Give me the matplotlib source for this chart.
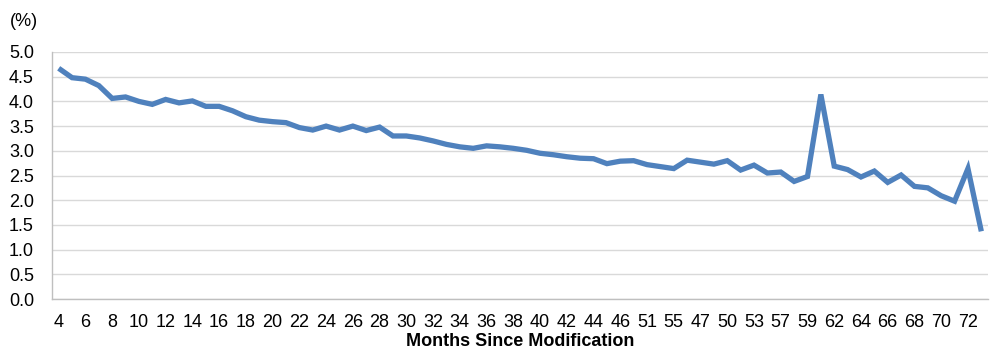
import matplotlib
matplotlib.use("Agg")
import matplotlib.pyplot as plt
import numpy as np

plt.rcParams['font.family'] = ['Liberation Sans', 'DejaVu Sans']

# Category labels (months since modification); only every other label is shown
categories = ["4", "5", "6", "7", "8", "9", "10", "11", "12", "13",
              "14", "15", "16", "17", "18", "19", "20", "21", "22", "23",
              "24", "25", "26", "27", "28", "29", "30", "31", "32", "33",
              "34", "35", "36", "37", "38", "39", "40", "41", "42", "43",
              "44", "45", "46", "48", "51", "54", "55", "56", "47", "49",
              "50", "52", "53", "56", "57", "58", "59", "61", "62", "63",
              "64", "65", "66", "67", "68", "69", "70", "71", "72", "73"]

values = [4.67, 4.48, 4.45, 4.32, 4.06, 4.09, 4.00, 3.94, 4.04, 3.97,
          4.01, 3.90, 3.90, 3.81, 3.69, 3.62, 3.59, 3.57, 3.47, 3.42,
          3.50, 3.42, 3.50, 3.41, 3.48, 3.30, 3.30, 3.26, 3.20, 3.13,
          3.08, 3.05, 3.10, 3.08, 3.05, 3.01, 2.95, 2.92, 2.88, 2.85,
          2.84, 2.74, 2.79, 2.80, 2.72, 2.68, 2.64, 2.81, 2.77, 2.73,
          2.80, 2.61, 2.71, 2.55, 2.57, 2.38, 2.48, 4.14, 2.69, 2.62,
          2.47, 2.59, 2.36, 2.51, 2.28, 2.25, 2.09, 1.98, 2.64, 1.37]

yticks = [0.0, 0.5, 1.0, 1.5, 2.0, 2.5, 3.0, 3.5, 4.0, 4.5, 5.0]

fig = plt.figure(figsize=(9.9, 3.51), dpi=100)
ax = fig.add_axes([52/990, 1 - 299/351, (988 - 52)/990, (299 - 52)/351])

x = np.arange(len(values))
ax.plot(x, values, color='#4F81BD', linewidth=3.8, solid_joinstyle='miter',
        solid_capstyle='butt', zorder=3)

ax.set_xlim(-0.5, len(values) - 0.5)
ax.set_ylim(0, 5.0)
ax.set_yticks(yticks)
ax.set_yticklabels([f"{v:.1f}" for v in yticks], fontsize=13)
ax.set_xticks(x[::2])
ax.set_xticklabels(categories[::2], fontsize=13)
ax.tick_params(axis='y', length=0, pad=13)
ax.tick_params(axis='x', length=0, pad=11)

ax.grid(axis='y', color='#D9D9D9', linewidth=1.0, zorder=0)
ax.set_axisbelow(True)
for s in ['top', 'right']:
    ax.spines[s].set_visible(False)
ax.spines['left'].set_color('#BFBFBF')
ax.spines['bottom'].set_color('#BFBFBF')
ax.spines['left'].set_linewidth(1.0)
ax.spines['bottom'].set_linewidth(1.0)

ax.set_xlabel("Months Since Modification", fontsize=13, fontweight='bold', labelpad=1)
fig.text(24/990, 1 - 21/351, "(%)", fontsize=13, ha='center', va='center')

fig.savefig("out.png", dpi=100)
